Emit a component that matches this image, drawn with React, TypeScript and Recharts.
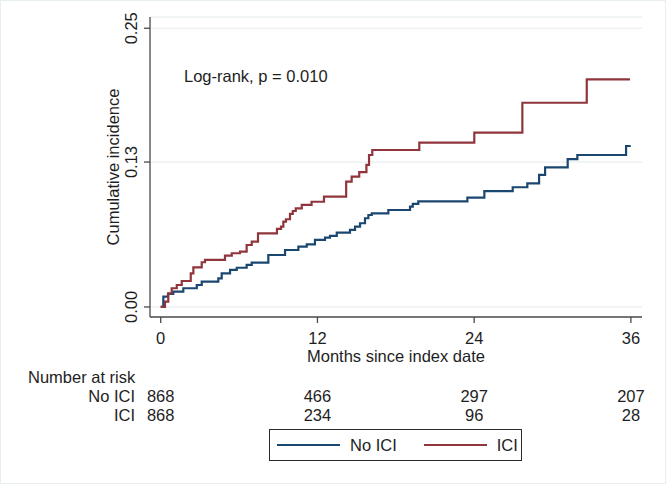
import React from "react";
import { LineChart, Line, XAxis, YAxis, CartesianGrid, Legend } from "recharts";

const FONT = '"Liberation Sans", Arial, Helvetica, sans-serif';
const FONT_SIZE = 16.5;
const TEXT = "#1e1e1e";

// Cumulative incidence, No ICI arm (months, value)
const noIciTimes = [0, 0.2, 0.56, 0.96, 1.73, 2.76, 3.14, 4.41, 4.67, 5.31, 5.82, 6.58, 6.97, 8.24, 9.52, 10.54, 11.18, 11.81, 12.58, 12.96, 13.48, 14.49, 14.88, 15.26, 15.64, 15.9, 16.16, 17.43, 19.09, 19.3, 19.72, 23.48, 24.78, 26.95, 28.07, 28.97, 29.43, 31.16, 31.9, 35.63, 35.99];
const noIciValues = [0, 0.0092, 0.0117, 0.0137, 0.0168, 0.0197, 0.0227, 0.0257, 0.0302, 0.0332, 0.0352, 0.0377, 0.0397, 0.0466, 0.0511, 0.0541, 0.0562, 0.0601, 0.0622, 0.0637, 0.0666, 0.0691, 0.072, 0.0751, 0.0796, 0.0825, 0.084, 0.087, 0.09, 0.0924, 0.0948, 0.098, 0.104, 0.1074, 0.1109, 0.1184, 0.1253, 0.1327, 0.1363, 0.1444, 0.1444];

// Cumulative incidence, ICI arm
const iciTimes = [0, 0.33, 0.58, 0.84, 1.23, 1.61, 2.3, 2.5, 3.14, 3.39, 4.92, 5.44, 6.07, 6.58, 6.97, 7.45, 8.9, 9.21, 9.39, 9.59, 9.9, 10.11, 10.34, 10.8, 11.55, 12.5, 14.2, 14.62, 15.2, 15.75, 15.95, 16.2, 19.8, 24.01, 27.69, 32.62, 35.93];
const iciValues = [0, 0.0048, 0.0123, 0.0168, 0.0197, 0.0233, 0.0302, 0.0356, 0.0401, 0.0422, 0.046, 0.0482, 0.0496, 0.0556, 0.0586, 0.0661, 0.07, 0.072, 0.0765, 0.0787, 0.0835, 0.0861, 0.0885, 0.0915, 0.0944, 0.0989, 0.1124, 0.1169, 0.121, 0.1274, 0.1363, 0.1408, 0.1474, 0.1563, 0.1832, 0.2042, 0.2042];

// axes + number at risk table
const seriesNames = ["No ICI", "ICI"];
const xTicks = [0, 12, 24, 36];
const yTicks = [0, 0.13, 0.25];
const riskNoIci = [868, 466, 297, 207];
const riskIci = [868, 234, 96, 28];

const toRows = (times: number[], values: number[]) =>
  times.map((t, i) => ({ t, v: values[i] }));

const noIciData = toRows(noIciTimes, noIciValues);
const iciData = toRows(iciTimes, iciValues);

const textProps = {
  fontFamily: FONT,
  fontSize: FONT_SIZE,
  fill: TEXT,
};

const YTick = ({ x, y, payload }: any) => (
  <text
    {...textProps}
    x={x}
    y={y}
    textAnchor="middle"
    transform={`rotate(-90, ${x}, ${y})`}
  >
    {Number(payload.value).toFixed(2)}
  </text>
);

// tick label plus the number-at-risk rows under it
const XTick = ({ x, y, payload }: any) => {
  const i = xTicks.indexOf(payload.value);
  return (
    <g>
      <text {...textProps} x={x} y={y + 11.7} textAnchor="middle">
        {payload.value}
      </text>
      <text {...textProps} x={x} y={y + 69.7} textAnchor="middle">
        {riskNoIci[i]}
      </text>
      <text {...textProps} x={x} y={y + 89} textAnchor="middle">
        {riskIci[i]}
      </text>
    </g>
  );
};

const LegendBox = ({ payload }: any) => {
  // keep the series order (No ICI first), recharts sorts by name
  const items = [...(payload || [])].sort(
    (a: any, b: any) => seriesNames.indexOf(a.value) - seriesNames.indexOf(b.value)
  );
  return (
    <div
      style={{
        boxSizing: "border-box",
        width: 253,
        height: 32,
        border: "1px solid #2b2b2b",
        display: "flex",
        alignItems: "center",
        paddingLeft: 7,
        fontFamily: FONT,
        fontSize: FONT_SIZE,
        color: TEXT,
        background: "#fff",
      }}
    >
      {items.map((entry: any, idx: number) => (
        <div
          key={`legend-${idx}`}
          style={{ display: "flex", alignItems: "center", marginLeft: idx ? 27 : 0 }}
        >
          <div style={{ width: 63, height: 2, background: entry.color }} />
          <span style={{ marginLeft: 10 }}>{entry.value}</span>
        </div>
      ))}
    </div>
  );
};

export default function App() {
  return (
    <div
      style={{
        position: "absolute",
        left: 0,
        top: 0,
        width: 666,
        height: 484,
        background: "#fff",
        boxSizing: "border-box",
        border: "1px solid #e6eef0",
      }}
    >
      <div style={{ position: "absolute", left: -1, top: -1 }}>
        <LineChart
          width={666}
          height={484}
          margin={{ top: 17, right: 24, left: 90, bottom: 137 }}
        >
          <CartesianGrid vertical={false} stroke="#e3ebee" strokeWidth={1} />
          <XAxis
            dataKey="t"
            type="number"
            domain={[-0.82, 36.85]}
            ticks={xTicks}
            allowDataOverflow
            height={30}
            tickSize={6}
            tickMargin={9}
            stroke="#4a4a4a"
            strokeWidth={1.3}
            tick={<XTick />}
          />
          <YAxis
            type="number"
            domain={[-0.009, 0.2601]}
            ticks={yTicks}
            allowDataOverflow
            width={60}
            tickSize={6}
            tickMargin={7}
            stroke="#4a4a4a"
            strokeWidth={1.3}
            tick={<YTick />}
          />
          <Legend
            layout="horizontal"
            align="center"
            verticalAlign="middle"
            wrapperStyle={{ left: 269, top: 429, width: 253, height: 32 }}
            content={<LegendBox />}
          />
          <Line
            data={noIciData}
            dataKey="v"
            name="No ICI"
            type="stepAfter"
            stroke="#1a476f"
            strokeWidth={2.2}
            dot={false}
            isAnimationActive={false}
          />
          <Line
            data={iciData}
            dataKey="v"
            name="ICI"
            type="stepAfter"
            stroke="#90353b"
            strokeWidth={2.2}
            dot={false}
            isAnimationActive={false}
          />
        </LineChart>
      </div>
      <svg
        width={666}
        height={484}
        style={{ position: "absolute", left: -1, top: -1, pointerEvents: "none" }}
      >
        <text {...textProps} x={184} y={81.7}>
          Log-rank, p = 0.010
        </text>
        <text
          {...textProps}
          x={119}
          y={167}
          textAnchor="middle"
          transform="rotate(-90, 119, 167)"
        >
          Cumulative incidence
        </text>
        <text {...textProps} x={396} y={362} textAnchor="middle">
          Months since index date
        </text>
        <text {...textProps} x={28} y={383}>
          Number at risk
        </text>
        <text {...textProps} x={135} y={401.7} textAnchor="end">
          No ICI
        </text>
        <text {...textProps} x={135} y={421} textAnchor="end">
          ICI
        </text>
      </svg>
    </div>
  );
}
